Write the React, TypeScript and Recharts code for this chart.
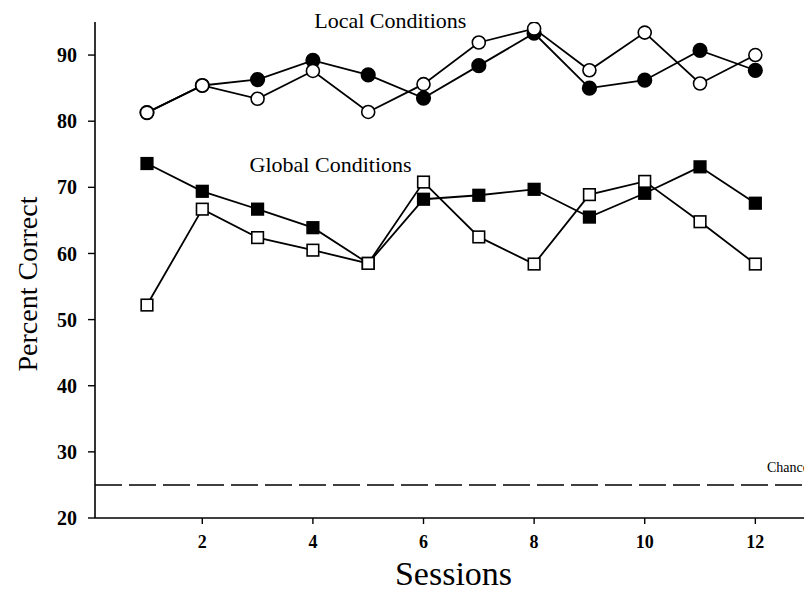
import React from "react";
import { LineChart, Line, XAxis, YAxis, ReferenceLine, ReferenceDot } from "recharts";

const sessions = [1, 2, 3, 4, 5, 6, 7, 8, 9, 10, 11, 12];
const localFilled = [81.3, 85.4, 86.3, 89.2, 87.0, 83.5, 88.4, 93.3, 85.0, 86.2, 90.7, 87.7];
const localOpen = [81.3, 85.4, 83.4, 87.6, 81.4, 85.6, 91.9, 94.0, 87.7, 93.4, 85.7, 90.0];
const globalFilled = [73.6, 69.4, 66.7, 63.9, 58.5, 68.2, 68.8, 69.7, 65.5, 69.1, 73.1, 67.6];
const globalOpen = [52.2, 66.7, 62.4, 60.5, 58.5, 70.8, 62.5, 58.4, 68.9, 70.9, 64.8, 58.4];
const xTicks = [2, 4, 6, 8, 10, 12];
const yTicks = [20, 30, 40, 50, 60, 70, 80, 90];
const chanceLevel = 25;

const rows = sessions.map((s, i) => ({
  session: s,
  localFilled: localFilled[i],
  localOpen: localOpen[i],
  globalFilled: globalFilled[i],
  globalOpen: globalOpen[i],
}));

const FONT = "'Liberation Serif', 'Times New Roman', serif";

const circleDot = (filled: boolean) => (props: any) => {
  const { cx, cy, index } = props;
  if (cx == null || cy == null) return <g key={`c${index}`} />;
  return (
    <circle
      key={`c${filled ? "f" : "o"}${index}`}
      cx={cx}
      cy={cy}
      r={filled ? 6.8 : 6.5}
      fill={filled ? "#000" : "#fff"}
      stroke="#000"
      strokeWidth={1.6}
    />
  );
};

const squareDot = (filled: boolean) => (props: any) => {
  const { cx, cy, index } = props;
  if (cx == null || cy == null) return <g key={`s${index}`} />;
  const h = 5.8;
  return (
    <rect
      key={`s${filled ? "f" : "o"}${index}`}
      x={cx - h}
      y={cy - h}
      width={h * 2}
      height={h * 2}
      fill={filled ? "#000" : "#fff"}
      stroke="#000"
      strokeWidth={1.6}
    />
  );
};

const XLabel = (props: any) => {
  const vb = props.viewBox || { x: 95, y: 518, width: 709, height: 74 };
  return (
    <text x={vb.x + vb.width / 2 + 4} y={vb.y + 67} textAnchor="middle" fontFamily={FONT} fontSize={34} fill="#000">
      Sessions
    </text>
  );
};

const YLabel = (props: any) => {
  const vb = props.viewBox || { x: 0, y: 22, width: 95, height: 496 };
  const x = vb.x + 37;
  const y = vb.y + vb.height / 2 + 14;
  return (
    <text x={x} y={y} transform={`rotate(-90, ${x}, ${y})`} textAnchor="middle" fontFamily={FONT} fontSize={28} fill="#000">
      Percent Correct
    </text>
  );
};

const ChanceLabel = (props: any) => {
  const vb = props.viewBox || { x: 95, y: 485, width: 709, height: 0 };
  return (
    <text x={vb.x + vb.width - 37} y={vb.y - 13} textAnchor="start" fontFamily={FONT} fontSize={14} fill="#000">
      Chance
    </text>
  );
};

export default function App() {
  return (
    <div style={{ position: "absolute", left: 0, top: 0, width: 804, height: 592, background: "#fff" }}>
      <LineChart width={804} height={592} data={rows} margin={{ top: 22, right: 0, bottom: 0, left: 0 }}>
        <XAxis
          dataKey="session"
          type="number"
          domain={[0.06, 12.88]}
          ticks={xTicks}
          allowDataOverflow
          height={74}
          axisLine={{ stroke: "#000", strokeWidth: 1.6 }}
          tickLine={{ stroke: "#000", strokeWidth: 1.4 }}
          tickSize={6}
          tickMargin={11}
          tick={{ fill: "#000", fontSize: 18, fontFamily: FONT, fontWeight: "bold" }}
          label={<XLabel />}
        />
        <YAxis
          type="number"
          domain={[20, 95]}
          ticks={yTicks}
          allowDataOverflow
          width={95}
          axisLine={{ stroke: "#000", strokeWidth: 1.6 }}
          tickLine={{ stroke: "#000", strokeWidth: 1.4 }}
          tickSize={7}
          tickMargin={11}
          tick={{ fill: "#000", fontSize: 20, fontFamily: FONT, fontWeight: "bold" }}
          label={<YLabel />}
        />
        <ReferenceLine y={chanceLevel} stroke="#000" strokeWidth={1.6} strokeDasharray="27 7" label={<ChanceLabel />} />
        <ReferenceDot
          x={5.4}
          y={95.26}
          r={0}
          fill="none"
          stroke="none"
          ifOverflow="visible"
          label={{ value: "Local Conditions", position: "center", fontFamily: FONT, fontSize: 22, fill: "#000" }}
        />
        <ReferenceDot
          x={4.32}
          y={73.49}
          r={0}
          fill="none"
          stroke="none"
          ifOverflow="visible"
          label={{ value: "Global Conditions", position: "center", fontFamily: FONT, fontSize: 22, fill: "#000" }}
        />
        <Line dataKey="localFilled" stroke="#000" strokeWidth={1.8} isAnimationActive={false} dot={circleDot(true)} activeDot={false} />
        <Line dataKey="localOpen" stroke="#000" strokeWidth={1.8} isAnimationActive={false} dot={circleDot(false)} activeDot={false} />
        <Line dataKey="globalFilled" stroke="#000" strokeWidth={1.8} isAnimationActive={false} dot={squareDot(true)} activeDot={false} />
        <Line dataKey="globalOpen" stroke="#000" strokeWidth={1.8} isAnimationActive={false} dot={squareDot(false)} activeDot={false} />
      </LineChart>
    </div>
  );
}
